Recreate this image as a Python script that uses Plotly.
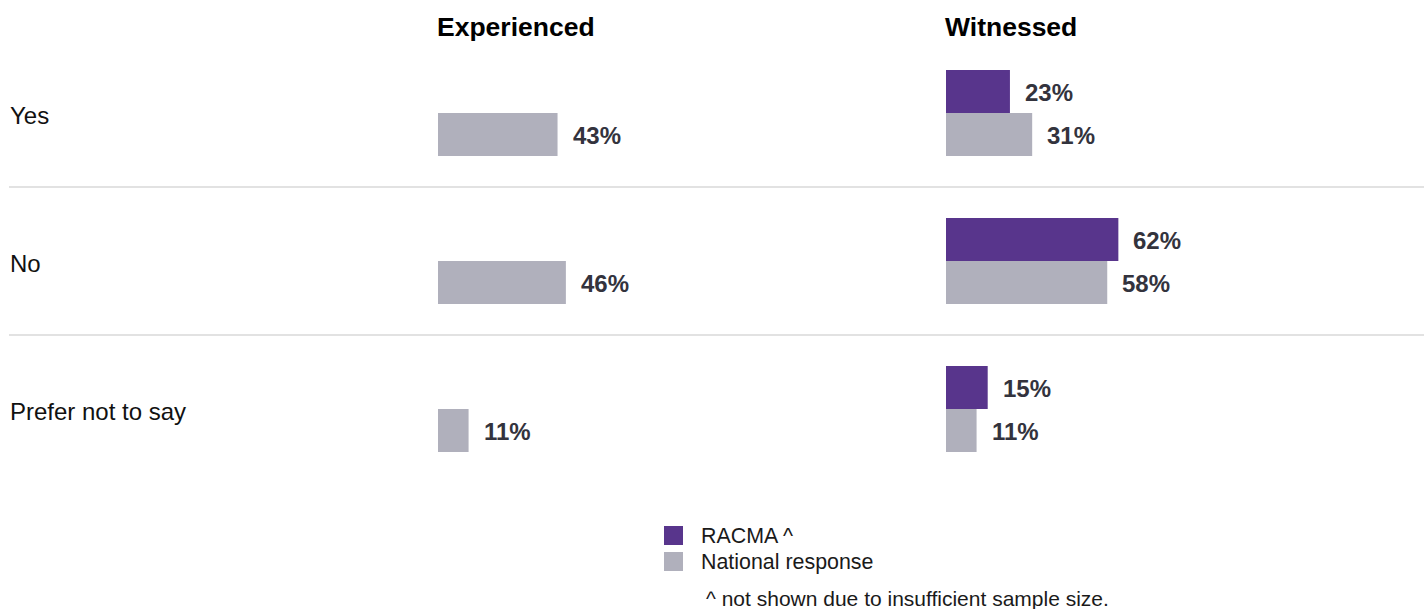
import plotly.graph_objects as go

# Survey answers and shares (%)
categories = ["Yes", "No", "Prefer not to say"]
racma_experienced = [None, None, None]          # suppressed: sample too small
national_experienced = [43, 46, 11]
racma_witnessed = [23, 62, 15]
national_witnessed = [31, 58, 11]

panel_titles = ["Experienced", "Witnessed"]
series_names = ["RACMA ^", "National response"]
footnote = "^ not shown due to insufficient sample size."

PURPLE = "#58358c"
GREY = "#b0b0bc"
LABEL = "#33333d"
FONT = "Liberation Sans, Arial, sans-serif"

W, H = 1424, 609
PX_PER_PCT = 2.78
PANEL_W = 450
x1_left, x2_left = 438, 946


def px(v):
    return v / W


def py(v):
    return (H - v) / H


fig = go.Figure()

panels = [
    ("x", racma_experienced, national_experienced),
    ("x2", racma_witnessed, national_witnessed),
]
for xa, racma, national in panels:
    fig.add_trace(go.Bar(y=categories, x=racma, orientation="h", xaxis=xa, yaxis="y",
                         marker=dict(color=PURPLE, line=dict(width=0)),
                         name=series_names[0], showlegend=False, hoverinfo="skip"))
    fig.add_trace(go.Bar(y=categories, x=national, orientation="h", xaxis=xa, yaxis="y",
                         marker=dict(color=GREY, line=dict(width=0)),
                         name=series_names[1], showlegend=False, hoverinfo="skip"))

annotations = []
# value labels beside each bar
for xa, racma, national in panels:
    for cat, r, n in zip(categories, racma, national):
        for val, shift in ((r, 21.25), (n, -21.25)):
            if val is None:
                continue
            annotations.append(dict(
                x=val, y=cat, xref=xa, yref="y", xshift=13, yshift=shift - 1,
                xanchor="left", yanchor="middle", showarrow=False,
                text=f"<b>{val}%</b>", font=dict(size=24, color=LABEL, family=FONT)))

# row labels
for cat in categories:
    annotations.append(dict(
        x=px(8), y=cat, xref="paper", yref="y", xanchor="left", yanchor="middle",
        yshift=-2, showarrow=False, text=cat,
        font=dict(size=24, color="#111111", family=FONT)))

# panel headings
for title, left in zip(panel_titles, (x1_left, x2_left)):
    annotations.append(dict(
        x=px(left - 3), y=py(27), xref="paper", yref="paper", xanchor="left",
        yanchor="middle", showarrow=False, text=f"<b>{title}</b>",
        font=dict(size=26.5, color="#000000", family=FONT)))

shapes = []
# row separators
for ysep in (0.5, 1.5):
    shapes.append(dict(type="line", xref="paper", yref="y", x0=px(9), x1=1,
                       y0=ysep, y1=ysep, line=dict(color="#d9d9d9", width=1.5)))

# legend
legend_items = [(series_names[0], PURPLE, 535.5), (series_names[1], GREY, 561.5)]
for name, color, yc in legend_items:
    shapes.append(dict(type="rect", xref="paper", yref="paper",
                       x0=px(664), x1=px(683), y0=py(yc + 9.5), y1=py(yc - 9.5),
                       fillcolor=color, line=dict(width=0)))
    annotations.append(dict(
        x=px(699), y=py(yc), xref="paper", yref="paper", xanchor="left",
        yanchor="middle", showarrow=False, text=name,
        font=dict(size=21.4, color="#1a1a1a", family=FONT)))

annotations.append(dict(
    x=px(704), y=py(598), xref="paper", yref="paper", xanchor="left",
    yanchor="middle", showarrow=False, text=footnote,
    font=dict(size=21, color="#1a1a1a", family=FONT)))

xrange = [0, PANEL_W / PX_PER_PCT]
fig.update_layout(
    width=W, height=H,
    margin=dict(l=0, r=0, t=0, b=0),
    paper_bgcolor="white", plot_bgcolor="white",
    font=dict(family=FONT),
    barmode="group", bargap=0.42, bargroupgap=0,
    xaxis=dict(domain=[px(x1_left), px(x1_left + PANEL_W)], range=xrange,
               visible=False, fixedrange=True),
    xaxis2=dict(domain=[px(x2_left), px(x2_left + PANEL_W)], range=xrange,
                visible=False, fixedrange=True),
    yaxis=dict(domain=[py(483), py(39)], type="category",
               categoryorder="array", categoryarray=categories,
               range=[2.5, -0.5], visible=False, fixedrange=True),
    annotations=annotations,
    shapes=shapes,
    showlegend=False,
)

fig.write_html("out.html")
